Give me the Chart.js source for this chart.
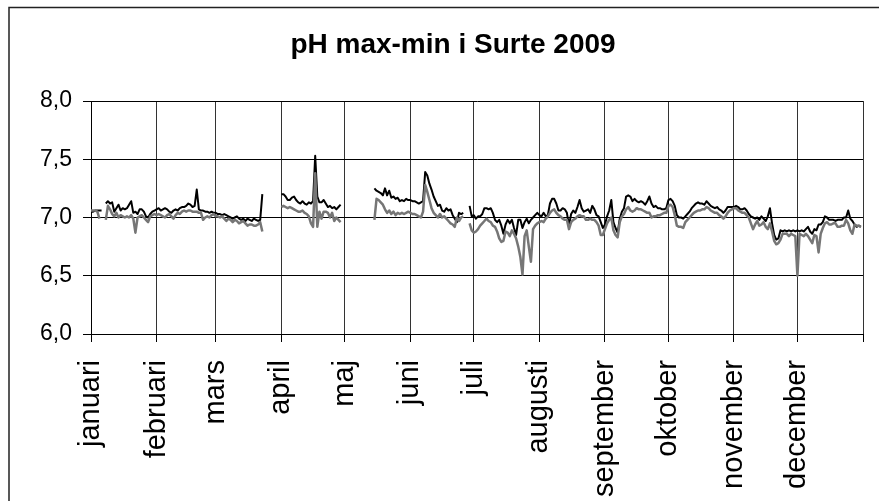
<!DOCTYPE html>
<html>
<head>
<meta charset="utf-8">
<title>pH max-min i Surte 2009</title>
<script src="https://cdn.jsdelivr.net/npm/chart.js@4.4.0/dist/chart.umd.min.js"></script>
<style>
  html, body { margin: 0; padding: 0; background: #fff; overflow: hidden; }
  #wrap { width: 879px; height: 501px; }
</style>
</head>
<body>
<div id="wrap"><canvas id="phChart" width="879" height="501"></canvas></div>
<script>
// Month names and the day-of-year each month starts on (gridlines/ticks)
const monthNames = ['januari', 'februari', 'mars', 'april', 'maj', 'juni', 'juli',
    'augusti', 'september', 'oktober', 'november', 'december', ''];
const monthStarts = [0, 31, 59, 90, 120, 151, 181, 212, 243, 273, 304, 334, 365];
const yTicks = [6.0, 6.5, 7.0, 7.5, 8.0];

// Daily max pH, one value per day (null = no measurement)
const phMax = [
    // jan
    7.05, 7.05, 7.06, 7.06, 7.06, 7.06, null, 7.12, 7.14, 7.12, 7.13, 7.05, 7.08, 7.11, 7.06, 7.08,
    7.07, 7.08, 7.11, 7.14, 7.04, 7.05, 7.03, 7.07, 7.07, 7.05, 7.01, 7.00, 7.03, 7.05, 7.06,
    // feb
    7.07, 7.08, 7.06, 7.07, 7.08, 7.07, 7.05, 7.04, 7.06, 7.07, 7.06, 7.08, 7.09, 7.09,
    7.10, 7.12, 7.11, 7.09, 7.10, 7.24, 7.07, 7.06, 7.06, 7.05, 7.05, 7.04, 7.05, 7.04,
    // mar
    7.04, 7.03, 7.03, 7.02, 7.03, 7.02, 7.01, 7.00, 6.99, 7.00, 7.01, 6.99, 6.98, 6.99, 6.97, 6.99,
    6.98, 6.97, 6.99, 6.98, 6.97, 6.98, 7.20, null, null, null, null, null, null, null, null,
    // apr
    7.20, 7.20, 7.18, 7.15, 7.15, 7.17, 7.18, 7.15, 7.13, 7.12, 7.14, 7.12, 7.11, 7.13, 7.12,
    7.14, 7.53, 7.18, 7.13, 7.13, 7.15, 7.12, 7.09, 7.10, 7.08, 7.09, 7.07, 7.09, 7.11, null,
    // maj
    null, null, null, null, null, null, null, null, null, null, null, null, null, null,
    7.25, 7.23, 7.22, 7.21, 7.19, 7.25, 7.19, 7.23, 7.17, 7.18, 7.16, 7.17, 7.14, 7.15, 7.14, 7.16, 7.15,
    // jun
    7.15, 7.14, 7.14, 7.13, 7.12, 7.13, 7.14, 7.39, 7.36, 7.29, 7.24, 7.18, 7.14, 7.10, 7.11,
    7.06, 7.05, 7.08, 7.06, 7.07, 7.02, 6.99, 6.96, 7.04, 7.03, 7.04, null, null, 7.10, 7.01,
    // jul
    7.02, 6.99, 7.01, 7.01, 7.03, 7.08, 7.08, 7.07, 7.08, 7.04, 6.98, 6.96, 6.98, 6.93, 6.86, 6.94,
    6.98, 6.95, 6.98, 6.91, 6.85, 6.98, 6.98, 6.91, 6.96, 6.99, 6.95, 6.98, 7.00, 7.02, 7.04,
    // aug
    7.02, 7.01, 7.04, 7.01, 7.02, 7.12, 7.16, 7.16, 7.12, 7.06, 7.06, 7.08, 7.07, 7.04, 6.93, 7.03,
    7.06, 7.04, 7.09, 7.15, 7.08, 7.05, 7.06, 7.07, 7.04, 7.10, 7.07, 7.02, 7.01, 6.96, 6.91,
    // sep
    6.94, 7.01, 7.06, 7.15, 6.96, 6.91, 6.87, 6.99, 7.05, 7.08, 7.18, 7.19, 7.18, 7.14, 7.16,
    7.14, 7.13, 7.14, 7.13, 7.11, 7.14, 7.18, 7.12, 7.09, 7.10, 7.08, 7.08, 7.07, 7.07, 7.08,
    // okt
    7.15, 7.16, 7.14, 7.10, 7.02, 7.00, 7.00, 6.99, 7.01, 7.03, 7.05, 7.08, 7.10, 7.12, 7.13, 7.12,
    7.12, 7.11, 7.14, 7.12, 7.10, 7.09, 7.08, 7.09, 7.07, 7.06, 7.04, 7.06, 7.09, 7.09, 7.09,
    // nov
    7.09, 7.10, 7.09, 7.07, 7.07, 7.08, 7.06, 7.03, 7.01, 7.00, 6.99, 7.00, 6.98, 7.01, 6.99,
    6.97, 7.01, 7.08, 6.95, 6.85, 6.81, 6.82, 6.89, 6.88, 6.89, 6.88, 6.89, 6.88, 6.89, 6.88,
    // dec
    6.89, 6.88, 6.89, 6.88, 6.90, 6.92, 6.88, 6.86, 6.90, 6.89, 6.94, 6.94, 6.96, 7.01, 7.00, 6.98,
    6.98, 6.98, 6.97, 6.98, 6.98, 6.98, 7.00, 7.00, 7.06, 6.99, 6.97, 6.94, 6.92, 6.93, 6.92
];

// Daily min pH
const phMin = [
    // jan
    7.06, 7.06, 7.06, 7.05, 6.99, null, null, 6.98, 7.10, 7.07, 7.03, 7.01, 7.04, 7.00, 7.02, 7.01,
    7.00, 7.01, 7.00, 7.02, 6.99, 6.87, 7.00, 7.01, 7.02, 7.00, 6.98, 6.96, 7.01, 7.02, 7.03,
    // feb
    7.02, 7.03, 7.02, 7.01, 7.00, 7.02, 7.03, 7.01, 6.99, 7.02, 7.04, 7.03, 7.05, 7.06,
    7.05, 7.06, 7.06, 7.05, 7.05, 7.05, 7.04, 7.04, 6.98, 7.00, 7.01, 7.00, 7.02, 7.03,
    // mar
    7.01, 7.01, 7.00, 7.01, 6.99, 6.97, 6.99, 6.98, 6.96, 6.98, 6.97, 6.95, 6.96, 6.97, 6.95, 6.93,
    6.94, 6.94, 6.93, 6.93, 6.94, 6.96, 6.88, null, null, null, null, null, null, null, null,
    // apr
    7.09, 7.10, 7.09, 7.08, 7.09, 7.08, 7.07, 7.06, 7.05, 7.05, 7.06, 7.04, 7.03, 7.01, 6.95,
    6.92, 7.38, 6.92, 7.05, 6.99, 7.05, 7.05, 7.04, 7.00, 7.04, 6.97, 7.00, 6.98, 6.96, null,
    // maj
    null, null, null, null, null, null, null, null, null, null, null, null, null, null,
    6.98, 7.16, 7.15, 7.13, 7.11, 7.07, 7.04, 7.06, 7.03, 7.05, 7.02, 7.04, 7.03, 7.04, 7.03, 7.04, 7.05,
    // jun
    7.04, 7.03, 7.03, 7.02, 7.01, 7.00, 7.05, 7.28, 7.22, 7.15, 7.08, 7.04, 7.02, 7.00, 7.03,
    7.00, 7.01, 6.99, 6.97, 6.95, 6.94, 6.92, 7.00, 6.97, 7.00, 7.01, null, null, 6.95, 6.89,
    // jul
    6.87, 6.88, 6.90, 6.93, 6.95, 6.97, 6.99, 6.97, 6.96, 6.93, 6.92, 6.88, 6.82, 6.79, 6.80, 6.88,
    6.87, 6.84, 6.89, 6.86, 6.82, 6.75, 6.66, 6.51, 6.84, 6.89, 6.75, 6.62, 6.90, 6.93, 6.95,
    // aug
    6.96, 6.97, 6.96, 6.99, 7.01, 7.04, 7.06, 7.07, 7.04, 7.02, 7.01, 6.99, 6.98, 6.98, 6.90, 6.96,
    6.98, 6.99, 7.01, 7.02, 7.01, 7.01, 6.98, 6.98, 6.99, 6.98, 6.98, 6.96, 6.93, 6.85, 6.85,
    // sep
    6.90, 6.95, 6.98, 7.00, 6.89, 6.85, 6.83, 6.96, 7.01, 7.03, 7.07, 7.09, 7.06, 7.05, 7.06,
    7.08, 7.07, 7.07, 7.06, 7.05, 7.04, 7.04, 7.00, 7.01, 7.01, 7.02, 7.02, 7.03, 7.04, 7.04,
    // okt
    7.10, 7.11, 7.09, 7.02, 6.93, 6.92, 6.92, 6.91, 6.96, 6.98, 7.00, 7.02, 7.04, 7.05, 7.06, 7.06,
    7.07, 7.07, 7.09, 7.08, 7.06, 7.05, 7.04, 7.04, 7.02, 7.01, 6.99, 7.01, 7.04, 7.06, 7.07,
    // nov
    7.08, 7.08, 7.06, 7.05, 7.04, 7.04, 7.02, 7.00, 6.95, 6.90, 6.94, 6.97, 6.93, 6.94, 6.96,
    6.92, 6.90, 6.95, 6.88, 6.80, 6.77, 6.78, 6.81, 6.86, 6.86, 6.86, 6.84, 6.86, 6.85, 6.84,
    // dec
    6.50, 6.86, 6.85, 6.84, 6.86, 6.84, 6.81, 6.78, 6.85, 6.84, 6.70, 6.86, 6.91, 6.95, 6.96, 6.94,
    6.94, 6.95, 6.95, 6.92, 6.92, 6.93, 6.93, 6.98, 6.95, 6.89, 6.86, 6.94, 6.93, 6.93, 6.92
];

const toPoints = arr => arr.map((v, i) => ({ x: i, y: v }));
const labelFont = 'Liberation Sans, Arial, sans-serif';

// Outer frame and title, drawn like the Excel chart area
const framePlugin = {
    id: 'frame',
    beforeDraw(chart) {
        const ctx = chart.ctx;
        ctx.save();
        ctx.fillStyle = '#fff';
        ctx.fillRect(0, 0, chart.width, chart.height);
        ctx.strokeStyle = '#222';
        ctx.lineWidth = 1.5;
        ctx.strokeRect(9, 7.5, 900, 600);
        ctx.restore();
    },
    afterDraw(chart) {
        const ctx = chart.ctx;
        ctx.save();
        ctx.fillStyle = '#000';
        ctx.font = 'bold 28px ' + labelFont;
        ctx.textAlign = 'center';
        ctx.textBaseline = 'alphabetic';
        ctx.fillText('pH max-min i Surte 2009', 453, 53);
        ctx.restore();
    }
};

new Chart(document.getElementById('phChart'), {
    type: 'line',
    data: {
        datasets: [
            {
                label: 'max',
                data: toPoints(phMax),
                borderColor: '#000',
                borderWidth: 2,
                order: 1
            },
            {
                label: 'min',
                data: toPoints(phMin),
                borderColor: '#767676',
                borderWidth: 2.5,
                order: 0
            }
        ]
    },
    options: {
        responsive: false,
        animation: false,
        spanGaps: false,
        layout: { padding: { left: 0, right: 16, top: 101, bottom: 0 } },
        elements: {
            point: { radius: 0 },
            line: { tension: 0, borderJoinStyle: 'round', fill: false }
        },
        plugins: {
            legend: { display: false },
            tooltip: { enabled: false },
            title: { display: false }
        },
        scales: {
            x: {
                type: 'linear',
                min: 0,
                max: 365,
                afterBuildTicks: scale => {
                    scale.ticks = monthStarts.map(v => ({ value: v }));
                },
                afterFit: scale => {
                    scale.height = 167;
                    scale.paddingLeft = 0;
                    scale.paddingRight = 0;
                },
                grid: { color: '#333', lineWidth: 1, tickLength: 8, tickColor: '#000' },
                border: { color: '#000', width: 1 },
                ticks: {
                    autoSkip: false,
                    minRotation: 90,
                    maxRotation: 90,
                    padding: 18,
                    color: '#000',
                    font: { family: labelFont, size: 29 },
                    callback: (value, index) => monthNames[index] || ''
                }
            },
            y: {
                min: 6,
                max: 8,
                afterBuildTicks: scale => {
                    scale.ticks = yTicks.map(v => ({ value: v }));
                },
                afterFit: scale => { scale.width = 91; },
                grid: { color: '#000', lineWidth: 1, tickLength: 8, tickColor: '#000' },
                border: { color: '#000', width: 1 },
                ticks: {
                    padding: 11,
                    color: '#000',
                    font: { family: labelFont, size: 23 },
                    callback: value => value.toFixed(1).replace('.', ',')
                }
            }
        }
    },
    plugins: [framePlugin]
});
</script>
</body>
</html>
